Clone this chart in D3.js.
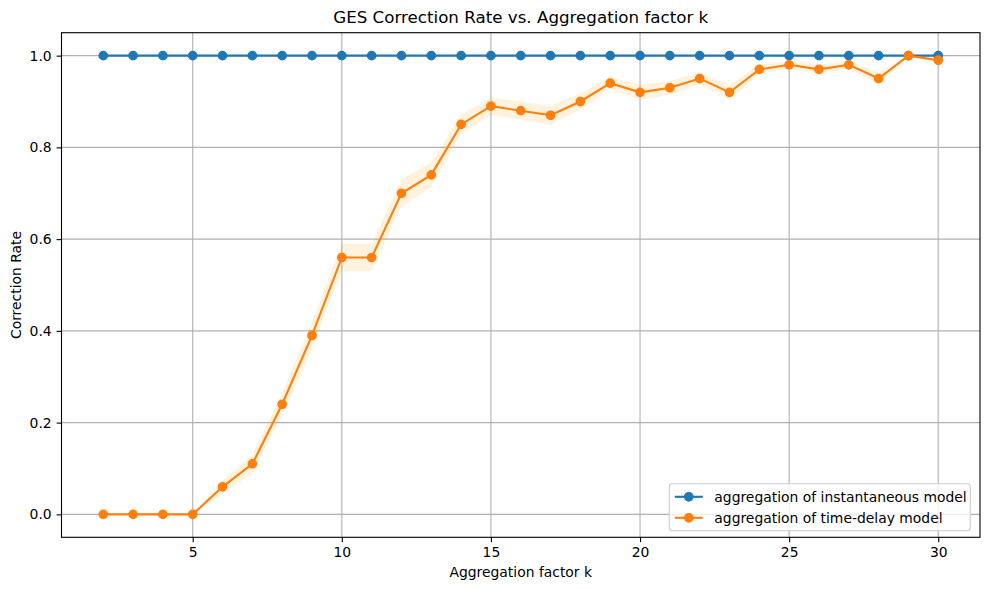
<!DOCTYPE html>
<html>
<head>
<meta charset="utf-8">
<script src="https://cdn.jsdelivr.net/npm/d3@7"></script>
<style>
  body { margin: 0; background: #fff; }
  svg { font-family: "DejaVu Sans", sans-serif; }
</style>
</head>
<body>
<svg id="chart" width="989" height="590"></svg>
<script>
// aggregation factor k
const kValues = [2, 3, 4, 5, 6, 7, 8, 9, 10, 11, 12, 13, 14, 15, 16, 17, 18, 19, 20, 21, 22, 23, 24, 25, 26, 27, 28, 29, 30];
// correction rate, instantaneous model
const instantRate = [1, 1, 1, 1, 1, 1, 1, 1, 1, 1, 1, 1, 1, 1, 1, 1, 1, 1, 1, 1, 1, 1, 1, 1, 1, 1, 1, 1, 1];
// correction rate, time-delay model
const delayRate = [0, 0, 0, 0, 0.06, 0.11, 0.24, 0.39, 0.56, 0.56, 0.70, 0.74, 0.85, 0.89, 0.88, 0.87, 0.90, 0.94, 0.92, 0.93, 0.95, 0.92, 0.97, 0.98, 0.97, 0.98, 0.95, 1.00, 0.99];
// shaded band around the time-delay curve (lower / upper)
const delayLow = [0, 0, 0, 0, 0.045, 0.09, 0.215, 0.36, 0.53, 0.53, 0.67, 0.713, 0.828, 0.871, 0.86, 0.849, 0.882, 0.926, 0.904, 0.915, 0.937, 0.904, 0.96, 0.972, 0.96, 0.972, 0.937, 1.00, 0.984];
const delayHigh = [0, 0, 0, 0, 0.075, 0.13, 0.265, 0.42, 0.59, 0.59, 0.73, 0.767, 0.872, 0.909, 0.90, 0.891, 0.918, 0.954, 0.936, 0.945, 0.963, 0.936, 0.98, 0.988, 0.98, 0.988, 0.963, 1.00, 0.996];
const xTicks = [5, 10, 15, 20, 25, 30];
const yTicks = [0, 0.2, 0.4, 0.6, 0.8, 1.0];
const seriesNames = ["aggregation of instantaneous model", "aggregation of time-delay model"];
const seriesColors = ["#1f77b4", "#ff7f0e"];

const svg = d3.select('#chart');

// plot area
const plotLeft = 61.5, plotRight = 980, plotTop = 32.7, plotBottom = 537.3;

const x = d3.scaleLinear().domain([0.6, 31.4]).range([plotLeft, plotRight]);
const y = d3.scaleLinear().domain([-0.05, 1.05]).range([plotBottom, plotTop]);

// grid
svg.append('g')
    .selectAll('line')
    .data(xTicks)
    .join('line')
    .attr('x1', d => x(d)).attr('x2', d => x(d))
    .attr('y1', plotTop).attr('y2', plotBottom)
    .attr('stroke', '#b0b0b0').attr('stroke-width', 1.1);
svg.append('g')
    .selectAll('line')
    .data(yTicks)
    .join('line')
    .attr('x1', plotLeft).attr('x2', plotRight)
    .attr('y1', d => y(d)).attr('y2', d => y(d))
    .attr('stroke', '#b0b0b0').attr('stroke-width', 1.1);

// band for time-delay model
const area = d3.area()
    .x((d, i) => x(kValues[i]))
    .y0((d, i) => y(delayLow[i]))
    .y1((d, i) => y(delayHigh[i]));
svg.append('path')
    .datum(delayRate)
    .attr('d', area)
    .attr('fill', '#ffa500')
    .attr('fill-opacity', 0.13);

// draw one series: line plus circle markers
function drawSeries(values, color) {
    const line = d3.line()
        .x((d, i) => x(kValues[i]))
        .y(d => y(d));
    svg.append('path')
        .datum(values)
        .attr('d', line)
        .attr('fill', 'none')
        .attr('stroke', color)
        .attr('stroke-width', 2.1);
    svg.append('g')
        .selectAll('circle')
        .data(values)
        .join('circle')
        .attr('cx', (d, i) => x(kValues[i]))
        .attr('cy', d => y(d))
        .attr('r', 4.2)
        .attr('fill', color)
        .attr('stroke', color)
        .attr('stroke-width', 1.3);
}
drawSeries(instantRate, seriesColors[0]);
drawSeries(delayRate, seriesColors[1]);

// axes
const xAxis = d3.axisBottom(x).tickValues(xTicks).tickSize(4.9).tickPadding(4.9).tickFormat(d3.format('d'));
const yAxis = d3.axisLeft(y).tickValues(yTicks).tickSize(4.9).tickPadding(4.9).tickFormat(d3.format('.1f'));

const gx = svg.append('g').attr('transform', `translate(0,${plotBottom})`).call(xAxis);
const gy = svg.append('g').attr('transform', `translate(${plotLeft},0)`).call(yAxis);
[gx, gy].forEach(g => {
    g.select('.domain').remove();
    g.selectAll('.tick line').attr('stroke', '#000').attr('stroke-width', 1.1);
    g.selectAll('.tick text').attr('font-size', '13.9px').attr('fill', '#000')
        .attr('font-family', '"DejaVu Sans", sans-serif');
});

// frame
svg.append('rect')
    .attr('x', plotLeft).attr('y', plotTop)
    .attr('width', plotRight - plotLeft).attr('height', plotBottom - plotTop)
    .attr('fill', 'none').attr('stroke', '#000').attr('stroke-width', 1.1);

// titles
svg.append('text')
    .attr('x', (plotLeft + plotRight) / 2).attr('y', 23)
    .attr('text-anchor', 'middle')
    .attr('font-size', '16.7px')
    .text('GES Correction Rate vs. Aggregation factor k');
svg.append('text')
    .attr('x', (plotLeft + plotRight) / 2).attr('y', 577)
    .attr('text-anchor', 'middle')
    .attr('font-size', '13.9px')
    .text('Aggregation factor k');
svg.append('text')
    .attr('transform', `translate(21,${(plotTop + plotBottom) / 2}) rotate(-90)`)
    .attr('text-anchor', 'middle')
    .attr('font-size', '13.9px')
    .text('Correction Rate');

// legend
const legW = 301, legH = 47;
const legX = plotRight - 9.7 - legW, legY = plotBottom - 6.5 - legH;
const legend = svg.append('g').attr('transform', `translate(${legX},${legY})`);
legend.append('rect')
    .attr('width', legW).attr('height', legH)
    .attr('rx', 3).attr('ry', 3)
    .attr('fill', '#fff').attr('fill-opacity', 0.8)
    .attr('stroke', '#cccccc').attr('stroke-width', 1.1);
seriesNames.forEach((name, i) => {
    const cy = 13 + i * 21;
    legend.append('line')
        .attr('x1', 5.5).attr('x2', 33.5)
        .attr('y1', cy).attr('y2', cy)
        .attr('stroke', seriesColors[i]).attr('stroke-width', 2.1);
    legend.append('circle')
        .attr('cx', 19.5).attr('cy', cy).attr('r', 4.2)
        .attr('fill', seriesColors[i])
        .attr('stroke', seriesColors[i])
        .attr('stroke-width', 1.3);
    legend.append('text')
        .attr('x', 45).attr('y', cy + 5)
        .attr('font-size', '13.9px')
        .text(name);
});
</script>
</body>
</html>
